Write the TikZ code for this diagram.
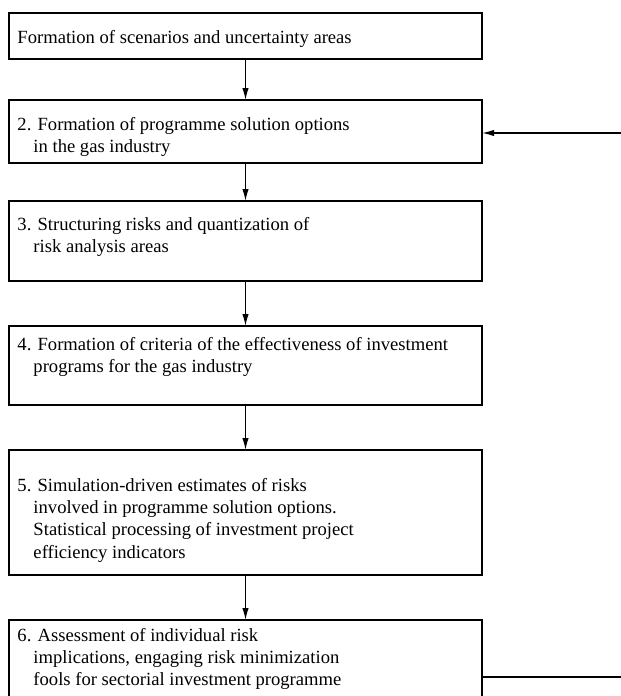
\documentclass[tikz,border=0pt]{standalone}
\usepackage{fontspec}
\setmainfont{Liberation Serif}
\usetikzlibrary{positioning,arrows.meta}
\newcommand{\stind}{\hspace*{8pt}}
\newcommand{\stagetext}[3]{\parbox[c][#1][t]{228pt}{\raggedright\vspace*{#2}#3}}
\tikzset{
  stage/.style={rectangle, draw=black, line width=1pt, inner xsep=4pt, inner ysep=0pt,
                outer sep=0pt, minimum width=236.5pt, font=\fontsize{9.3}{11.2}\selectfont},
  flow/.style={-{Latex[length=6pt,width=3.2pt]}, line width=0.7pt},
  link/.style={line width=0.7pt}
}

\begin{document}
\begin{tikzpicture}[node distance=22.5pt]
\useasboundingbox (0,0) rectangle (310.5pt,-348pt);
\clip (0,0) rectangle (310.5pt,-348pt);
\node[stage, anchor=north west] (b1) at (4.5pt,-6.5pt)
  {\stagetext{23pt}{8.5pt}{Formation of scenarios and uncertainty areas}};
\node[stage, below=20.5pt of b1] (b2)
  {\stagetext{31.5pt}{8.5pt}{2. Formation of programme solution options\\
   \stind in the gas industry}};
\node[stage, below=19pt of b2] (b3)
  {\stagetext{40pt}{8pt}{3. Structuring risks and quantization of\\
   \stind risk analysis areas}};
\node[stage, below=of b3] (b4)
  {\stagetext{39.5pt}{5.5pt}{4. Formation of criteria of the effectiveness of investment\\
   \stind programs for the gas industry}};
\node[stage, below=of b4] (b5)
  {\stagetext{62.5pt}{14pt}{5. Simulation-driven estimates of risks\\
   \stind involved in programme solution options.\\
   \stind Statistical processing of investment project\\
   \stind efficiency indicators}};
\node[stage, below=of b5] (b6)
  {\stagetext{41pt}{4pt}{6. Assessment of individual risk\\
   \stind implications, engaging risk minimization\\
   \stind fools for sectorial investment programme}};
% feedback ends, cut by the right edge
\coordinate (in2) at (312pt,-66.5pt);
\coordinate (out6) at (312pt,-338.5pt);
\draw[flow] (b1) -- (b2);
\draw[flow] (b2) -- (b3);
\draw[flow] (b3) -- (b4);
\draw[flow] (b4) -- (b5);
\draw[flow] (b5) -- (b6);
\draw[flow] (in2) -- (in2 -| b2.east);
\draw[link] (out6 -| b6.east) -- (out6);
\end{tikzpicture}
\end{document}
